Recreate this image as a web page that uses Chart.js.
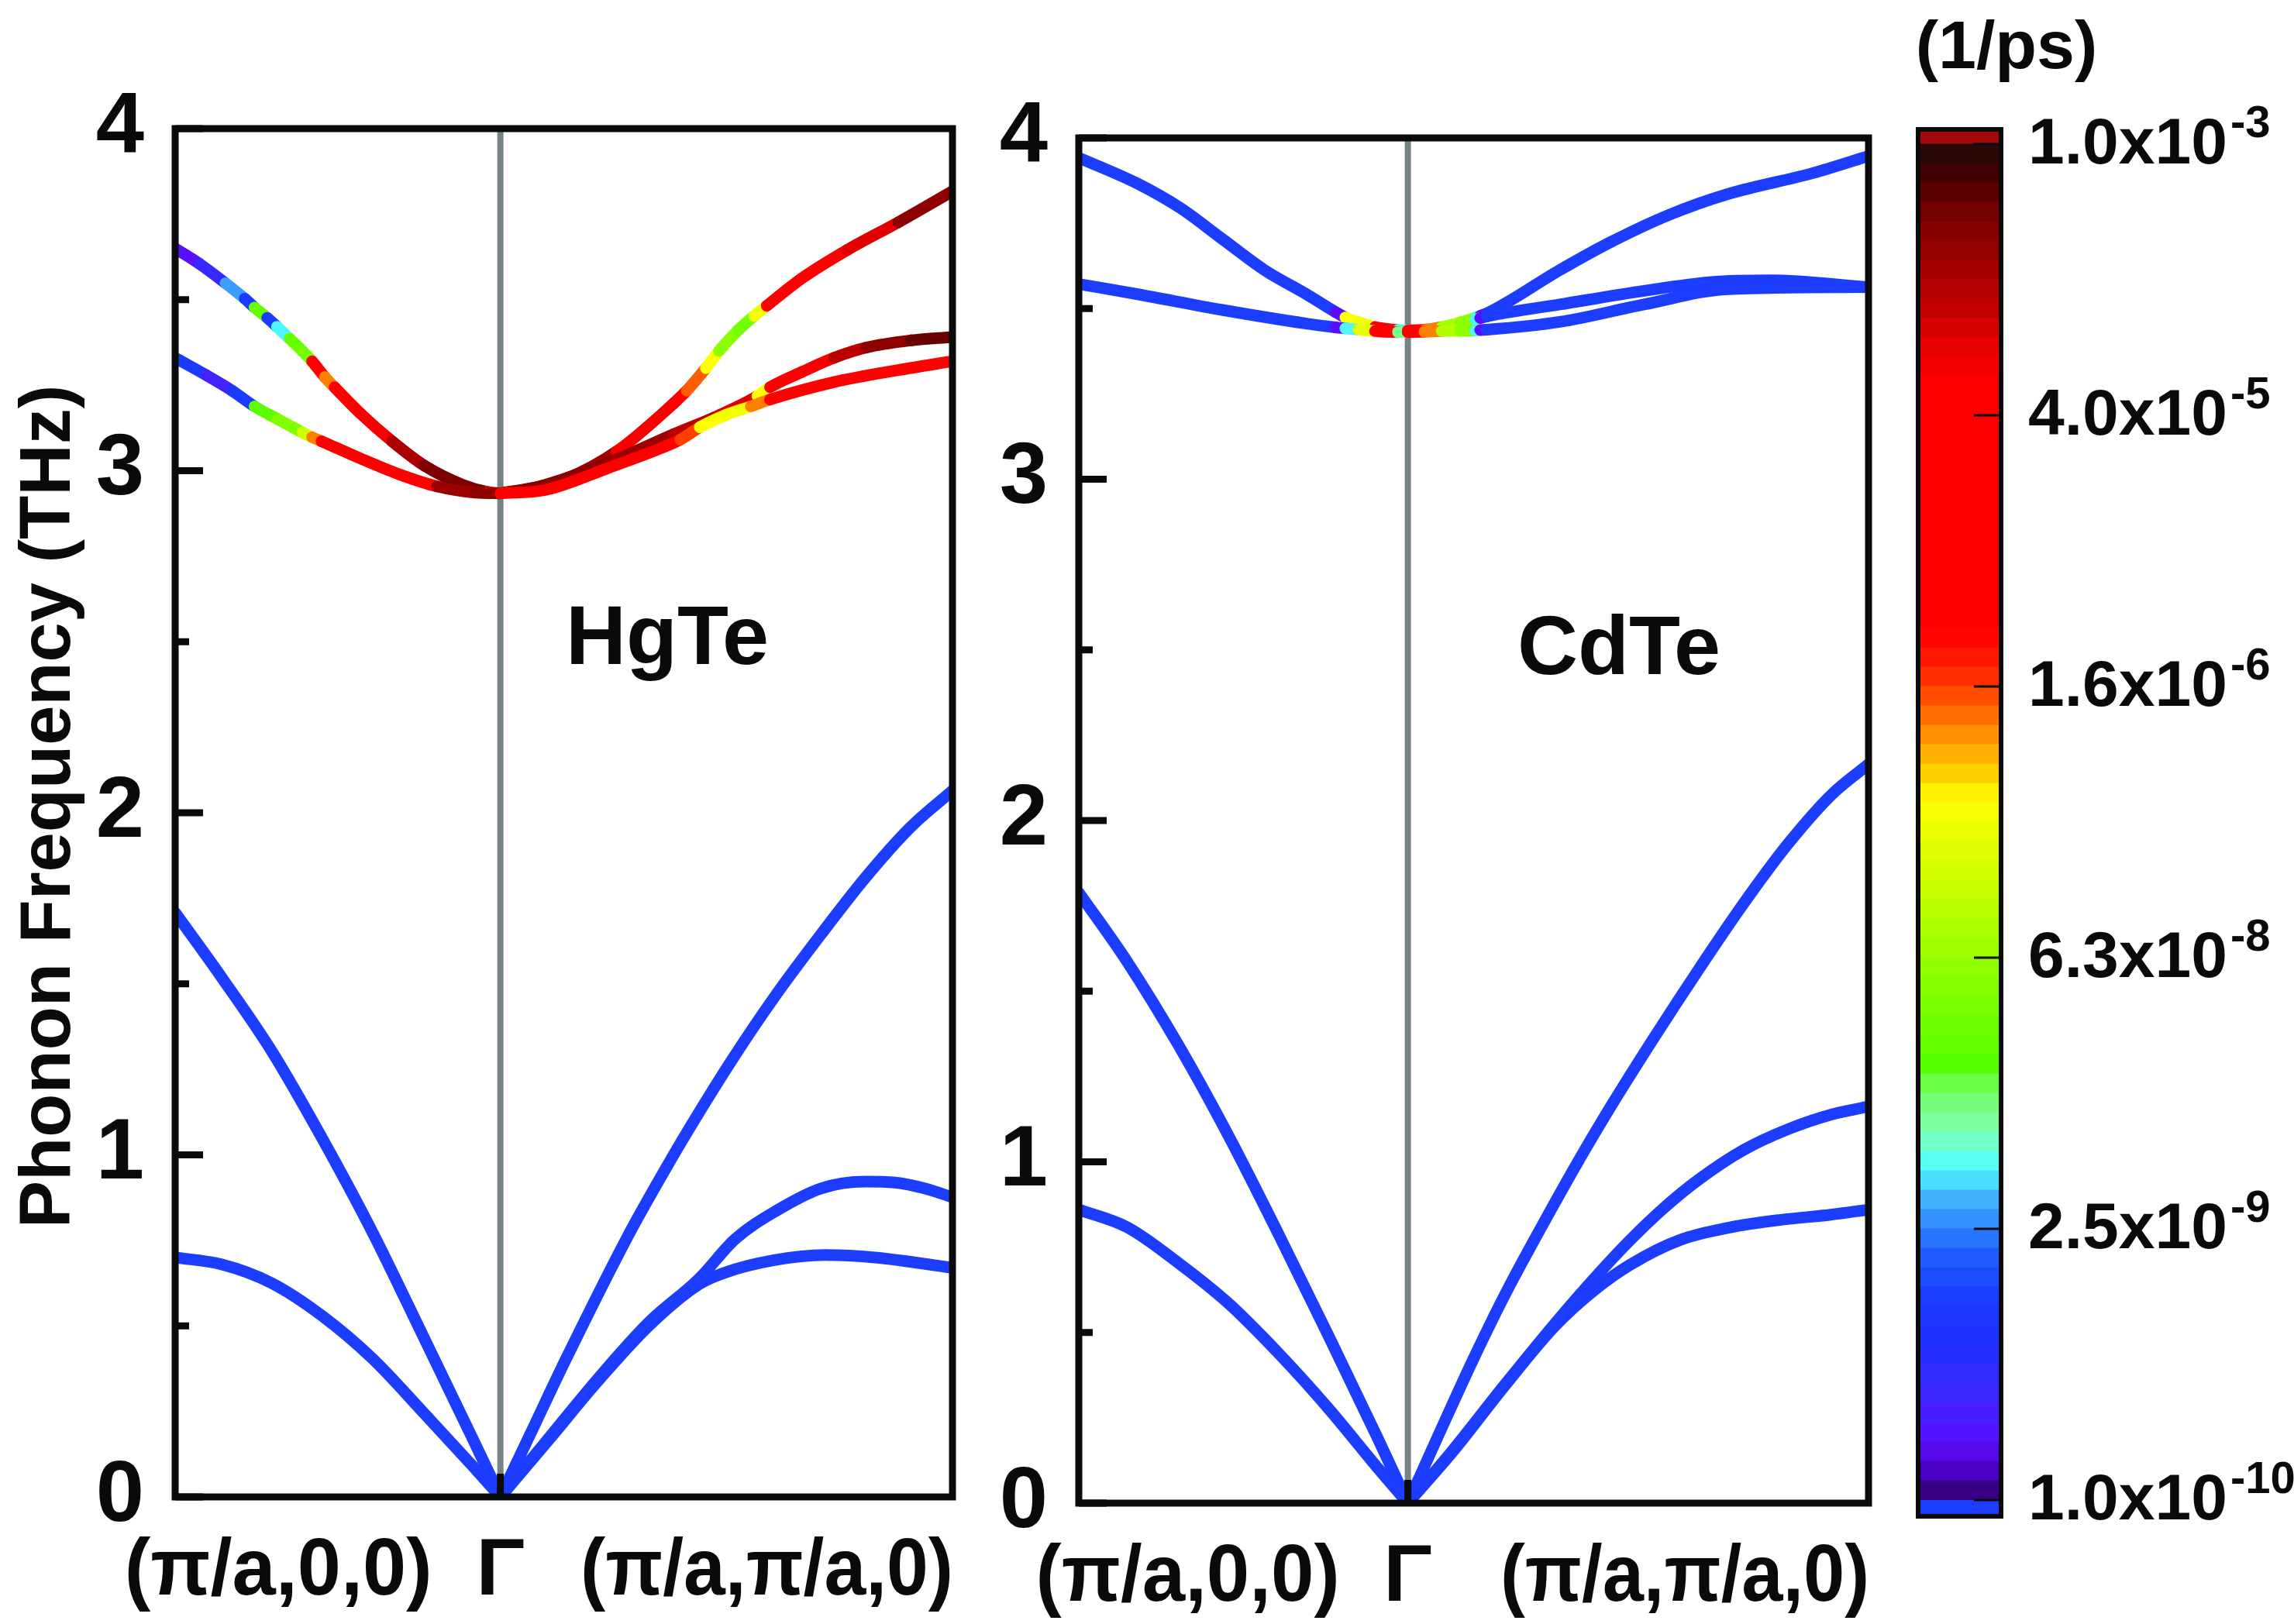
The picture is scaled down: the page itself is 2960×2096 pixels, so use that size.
<!DOCTYPE html>
<html><head><meta charset="utf-8">
<script src="https://cdn.jsdelivr.net/npm/chart.js@4.4.1/dist/chart.umd.min.js"></script>
<style>
html,body{margin:0;padding:0;background:#fff;}
#wrap{position:relative;width:2960px;height:2096px;overflow:hidden;background:#fff;}
canvas{position:absolute;top:0;}
</style></head><body>
<div id="wrap">
<canvas id="c1" width="1240" height="2096" style="left:0px;width:1240px;height:2096px"></canvas>
<canvas id="c2" width="1190" height="2096" style="left:1250px;width:1190px;height:2096px"></canvas>
<canvas id="c3" width="520" height="2096" style="left:2440px;width:520px;height:2096px"></canvas>
</div>
<script>
// ---------------- data ----------------
const freqTicks = [0, 1, 2, 3, 4];
const freqMinor = [0.5, 1.5, 2.5, 3.5];
const pathLabels = ['(\u03c0/a,0,0)', '\u0393', '(\u03c0/a,\u03c0/a,0)'];
const yTitle = 'Phonon Frequency (THz)';
const panelNames = ['HgTe', 'CdTe'];
const hgXmax = 1.39;
const cdXmax = 1.40;

// HgTe acoustic branches (below colour range)
const hg_TA_X_x = [-1, -0.858, -0.703, -0.549, -0.394, -0.240, -0.085, 0];
const hg_TA_X_f = [0.70, 0.68, 0.625, 0.53, 0.405, 0.25, 0.09, 0];
const hg_LA_X_x = [-1, -0.858, -0.703, -0.549, -0.394, -0.240, -0.085, 0];
const hg_LA_X_f = [1.708, 1.52, 1.303, 1.05, 0.775, 0.475, 0.17, 0];
const hg_LA_M_x = [0, 0.1, 0.2, 0.39, 0.486, 0.577, 0.713, 0.849, 0.986, 1.122, 1.258, 1.39];
const hg_LA_M_f = [0, 0.2, 0.4, 0.759, 0.923, 1.071, 1.279, 1.470, 1.645, 1.81, 1.955, 2.065];
const hg_TA2_M_x = [0, 0.147, 0.301, 0.456, 0.611, 0.722, 0.849, 0.986, 1.122, 1.213, 1.304, 1.39];
const hg_TA2_M_f = [0, 0.17, 0.347, 0.51, 0.638, 0.754, 0.837, 0.902, 0.922, 0.919, 0.902, 0.876];
const hg_TA1_M_x = [0, 0.147, 0.301, 0.456, 0.611, 0.688, 0.842, 0.997, 1.151, 1.39];
const hg_TA1_M_f = [0, 0.165, 0.34, 0.5, 0.622, 0.655, 0.692, 0.707, 0.70, 0.670];

// HgTe optical branches: x, frequency (THz), log10 rate (1/ps)
const hg_LO_X_x = [-1, -0.924, -0.845, -0.786, -0.756, -0.717, -0.687, -0.648, -0.609, -0.579, -0.540, -0.510, -0.431, -0.333, -0.234, -0.116, -0.04, 0];
const hg_LO_X_f = [3.650, 3.604, 3.548, 3.503, 3.477, 3.447, 3.421, 3.386, 3.350, 3.320, 3.274, 3.244, 3.168, 3.086, 3.015, 2.959, 2.938, 2.934];
const hg_LO_X_r = [-9.7, -9.4, -8.5, -9.0, -7.6, -9.0, -8.3, -7.6, -7.5, -4.5, -6.0, -4.5, -4.2, -3.7, -3.4, -3.4, -4.3, -4.3];
const hg_TO_X_x = [-1, -0.904, -0.825, -0.756, -0.687, -0.609, -0.579, -0.550, -0.431, -0.313, -0.195, -0.077, 0];
const hg_TO_X_f = [3.330, 3.279, 3.234, 3.188, 3.152, 3.112, 3.098, 3.086, 3.036, 2.990, 2.954, 2.936, 2.934];
const hg_TO_X_r = [-9.0, -9.5, -9.0, -7.7, -7.4, -6.8, -6.0, -4.5, -4.4, -4.3, -3.6, -3.5, -4.3];
const hg_LO_M_x = [0, 0.1, 0.199, 0.357, 0.534, 0.573, 0.632, 0.672, 0.731, 0.78, 0.819, 0.928, 1.066, 1.223, 1.39];
const hg_LO_M_f = [2.934, 2.949, 2.975, 3.056, 3.198, 3.234, 3.30, 3.35, 3.411, 3.452, 3.482, 3.563, 3.645, 3.726, 3.817];
const hg_LO_M_r = [-3.6, -3.5, -3.6, -4.2, -4.4, -5.9, -6.4, -7.3, -7.5, -6.5, -4.4, -4.3, -4.0, -3.5, -3.4];
const hg_TO2_M_x = [0, 0.12, 0.238, 0.337, 0.534, 0.672, 0.79, 0.829, 0.928, 1.026, 1.125, 1.263, 1.39];
const hg_TO2_M_f = [2.934, 2.954, 2.99, 3.025, 3.107, 3.162, 3.218, 3.244, 3.289, 3.33, 3.36, 3.381, 3.391];
const hg_TO2_M_r = [-3.5, -3.5, -3.5, -3.6, -3.8, -4.0, -6.4, -4.3, -4.2, -3.8, -3.5, -3.3, -3.4];
const hg_TO1_M_x = [0, 0.14, 0.337, 0.494, 0.553, 0.613, 0.691, 0.77, 0.829, 1.026, 1.223, 1.39];
const hg_TO1_M_f = [2.934, 2.944, 3.01, 3.066, 3.091, 3.127, 3.162, 3.188, 3.208, 3.259, 3.294, 3.32];
const hg_TO1_M_r = [-4.3, -4.3, -4.4, -4.5, -5.8, -6.4, -6.5, -6.0, -4.5, -4.4, -4.4, -4.5];

// CdTe acoustic branches (below colour range)
const cd_TA_X_x = [-1, -0.852, -0.699, -0.547, -0.394, -0.241, -0.089, 0];
const cd_TA_X_f = [0.86, 0.808, 0.705, 0.587, 0.44, 0.277, 0.10, 0];
const cd_LA_X_x = [-1, -0.852, -0.699, -0.547, -0.394, -0.241, -0.089, 0];
const cd_LA_X_f = [1.789, 1.585, 1.345, 1.08, 0.79, 0.49, 0.185, 0];
const cd_LA_M_x = [0, 0.1, 0.2, 0.3, 0.438, 0.524, 0.614, 0.749, 0.884, 1.019, 1.154, 1.289, 1.40];
const cd_LA_M_f = [0, 0.214, 0.424, 0.62, 0.865, 1.012, 1.158, 1.365, 1.564, 1.755, 1.93, 2.077, 2.165];
const cd_TA2_M_x = [0, 0.14, 0.293, 0.446, 0.568, 0.675, 0.776, 0.884, 1.019, 1.154, 1.289, 1.40];
const cd_TA2_M_f = [0, 0.159, 0.345, 0.525, 0.66, 0.77, 0.863, 0.948, 1.034, 1.095, 1.139, 1.162];
const cd_TA1_M_x = [0, 0.14, 0.293, 0.446, 0.568, 0.675, 0.827, 0.98, 1.133, 1.285, 1.40];
const cd_TA1_M_f = [0, 0.155, 0.342, 0.518, 0.625, 0.698, 0.771, 0.808, 0.83, 0.845, 0.86];

// CdTe optical branches
const U = -10.5; // below colour range
const cd_LO_X_x = [-1, -0.821, -0.692, -0.564, -0.436, -0.308, -0.22, -0.19, -0.15, -0.1, -0.07, -0.03, 0];
const cd_LO_X_f = [3.942, 3.866, 3.795, 3.704, 3.613, 3.542, 3.49, 3.474, 3.46, 3.446, 3.441, 3.437, 3.436];
const cd_LO_X_r = [U, U, U, U, U, U, -9.7, -6.4, -6.5, -4.5, -4.3, -8.3, -4.3];
const cd_TO_X_x = [-1, -0.821, -0.564, -0.308, -0.22, -0.19, -0.15, -0.1, -0.07, -0.03, 0];
const cd_TO_X_f = [3.572, 3.542, 3.496, 3.456, 3.445, 3.442, 3.438, 3.434, 3.432, 3.431, 3.431];
const cd_TO_X_r = [U, U, U, U, -9.7, -8.3, -6.6, -4.5, -4.4, -8.0, -4.3];
const cd_LO_M_x = [0, 0.05, 0.103, 0.16, 0.205, 0.22, 0.24, 0.462, 0.615, 0.795, 0.974, 1.231, 1.40];
const cd_LO_M_f = [3.436, 3.438, 3.446, 3.46, 3.474, 3.479, 3.486, 3.613, 3.694, 3.775, 3.836, 3.897, 3.947];
const cd_LO_M_r = [-4.3, -5.9, -7.0, -7.2, -8.3, -9.7, U, U, U, U, U, U, U];
const cd_TOa_M_x = [0, 0.05, 0.103, 0.16, 0.205, 0.22, 0.24, 0.462, 0.718, 0.923, 1.103, 1.40];
const cd_TOa_M_f = [3.431, 3.436, 3.445, 3.457, 3.468, 3.472, 3.477, 3.512, 3.552, 3.578, 3.583, 3.563];
const cd_TOa_M_r = [-4.3, -6.0, -7.1, -7.3, -8.3, -9.7, U, U, U, U, U, U];
const cd_TOb_M_x = [0, 0.05, 0.103, 0.16, 0.205, 0.22, 0.24, 0.462, 0.718, 0.974, 1.40];
const cd_TOb_M_f = [3.431, 3.432, 3.434, 3.435, 3.436, 3.437, 3.438, 3.461, 3.512, 3.557, 3.563];
const cd_TOb_M_r = [-4.3, -6.0, -7.0, -7.3, -8.3, -9.7, U, U, U, U, U];

// colour scale (log10 of 1/ps)
const cbMin = -10, cbMax = -3;
const cbTickVals = [-3, -4.4, -5.8, -7.2, -8.6, -10];
const cbTickMant = ['1.0x10', '4.0x10', '1.6x10', '6.3x10', '2.5x10', '1.0x10'];
const cbTickExp = ['-3', '-5', '-6', '-8', '-9', '-10'];
const cbTitle = '(1/ps)';
const cmapLevels = [-10, -9.93, -9.83, -9.69, -9.44, -9.2, -8.96, -8.72, -8.47, -8.28, -8.09, -7.89, -7.75, -7.26, -6.78, -6.39, -6.25, -6.05, -5.86, -5.7, -5.52, -4.26, -4.0, -3.84, -3.72, -3.59, -3.46, -3.32, -3.19, -3.05, -3.0];
const cmapColors = ['#36006e', '#3a0090', '#5000d0', '#5a10ff', '#3a28ff', '#2030ff', '#1a3cff', '#2060ff', '#40a8ff', '#50ffff', '#80ffb0', '#70ff60', '#55ff00', '#90ff00', '#d0ff00', '#ffff00', '#ffd000', '#ff9000', '#ff5000', '#ff2000', '#ff0000', '#ff0000', '#e00000', '#c00000', '#b00000', '#9a0000', '#880000', '#700000', '#4a0000', '#2a0808', '#2a0808'];
const UNDER_COLOR = '#1c3cff';
const OVER_COLOR = '#a00a0a';

// ---------------- helpers ----------------
const FONT = '"Liberation Sans", Arial, Helvetica, sans-serif';
const GAMMA_COLOR = '#778487';
const INK = '#0a0a0a';
const LINE_W = 15;

function hex2rgb(h) { return [parseInt(h.substr(1, 2), 16), parseInt(h.substr(3, 2), 16), parseInt(h.substr(5, 2), 16)]; }
function colorOf(r) {
  if (r === undefined || r === null || r < cbMin) return UNDER_COLOR;
  if (r > cbMax) return OVER_COLOR;
  for (let i = 0; i < cmapLevels.length - 1; i++) {
    if (r <= cmapLevels[i + 1]) {
      const t = (r - cmapLevels[i]) / (cmapLevels[i + 1] - cmapLevels[i]);
      const a = hex2rgb(cmapColors[i]), b = hex2rgb(cmapColors[i + 1]);
      return 'rgb(' + a.map((v, k) => Math.round(v + (b[k] - v) * t)).join(',') + ')';
    }
  }
  return cmapColors[cmapColors.length - 1];
}
function branch(xs, fs, rs) {
  const ds = {
    data: xs.map((x, i) => ({ x: x, y: fs[i] })),
    showLine: true, pointRadius: 0, pointHoverRadius: 0, borderWidth: LINE_W,
    borderCapStyle: 'round', borderJoinStyle: 'round',
    cubicInterpolationMode: 'monotone', clip: 0, fill: false,
    borderColor: rs ? colorOf(rs[0]) : UNDER_COLOR
  };
  if (rs) ds.segment = { borderColor: c => colorOf(rs[c.p0DataIndex]) };
  return ds;
}
// draw text so that it occupies the given width, right-aligned at xr
function fitText(ctx, text, xr, base, w) {
  const m = ctx.measureText(text).width;
  const s = w / m;
  ctx.save();
  ctx.translate(xr, base);
  ctx.scale(s, 1);
  ctx.textAlign = 'right';
  ctx.fillText(text, 0, 0);
  ctx.restore();
}

function panelPlugin(p) {
  return {
    id: 'panel' + p.name,
    beforeDatasetsDraw(chart) {
      const { ctx, chartArea: a, scales: { x } } = chart;
      const gx = x.getPixelForValue(0);
      ctx.save();
      ctx.strokeStyle = GAMMA_COLOR; ctx.lineWidth = 8;
      ctx.beginPath(); ctx.moveTo(gx, a.top); ctx.lineTo(gx, a.bottom); ctx.stroke();
      ctx.restore();
    },
    afterDatasetsDraw(chart) {
      const { ctx, chartArea: a, scales: { x, y } } = chart;
      const gx = x.getPixelForValue(0);
      ctx.save();
      ctx.strokeStyle = INK; ctx.fillStyle = INK;
      // inward ticks
      ctx.lineWidth = 9; ctx.lineCap = 'butt';
      freqTicks.forEach(v => { const py = y.getPixelForValue(v); ctx.beginPath(); ctx.moveTo(a.left, py); ctx.lineTo(a.left + 36, py); ctx.stroke(); });
      freqMinor.forEach(v => { const py = y.getPixelForValue(v); ctx.beginPath(); ctx.moveTo(a.left, py); ctx.lineTo(a.left + 18, py); ctx.stroke(); });
      // Gamma tick at bottom
      ctx.beginPath(); ctx.moveTo(gx, a.bottom); ctx.lineTo(gx, a.bottom - 30); ctx.stroke();
      // frame
      ctx.lineWidth = 9;
      ctx.strokeRect(a.left, a.top, a.right - a.left, a.bottom - a.top);
      // path labels
      ctx.font = 'bold 104px ' + FONT;
      ctx.textBaseline = 'alphabetic';
      fitText(ctx, pathLabels[0], gx - 88, p.labelBase, p.w0);
      ctx.textAlign = 'center'; ctx.fillText(pathLabels[1], gx, p.labelBase);
      fitText(ctx, pathLabels[2], a.right + 1, p.labelBase, p.w2);
      // material name
      ctx.font = 'bold 108px ' + FONT;
      ctx.textAlign = 'left';
      ctx.fillText(p.name, p.nameX, p.nameBase);
      // y title
      if (p.title) {
        ctx.font = 'bold 92px ' + FONT;
        ctx.translate(90, (a.top + a.bottom) / 2 - 8);
        ctx.rotate(-Math.PI / 2);
        ctx.textAlign = 'center';
        ctx.fillText(yTitle, 0, 0);
      }
      ctx.restore();
    }
  };
}

function panelConfig(datasets, xmax, pad, axisW, plugin) {
  return {
    type: 'scatter',
    data: { datasets: datasets },
    options: {
      responsive: false, animation: false, maintainAspectRatio: false,
      layout: { padding: pad },
      plugins: { legend: { display: false }, tooltip: { enabled: false } },
      events: [],
      scales: {
        x: { type: 'linear', min: -1, max: xmax, display: false },
        y: {
          type: 'linear', min: 0, max: 4, position: 'left',
          afterBuildTicks: s => { s.ticks = freqTicks.map(v => ({ value: v })); },
          afterFit: s => { s.width = axisW; },
          grid: { display: false, drawTicks: false },
          border: { display: false },
          ticks: { color: INK, padding: 40, font: { family: FONT, size: 112, weight: 'bold' }, callback: v => String(v) }
        }
      }
    },
    plugins: [plugin]
  };
}

// ---------------- HgTe ----------------
const hgSets = [
  branch(hg_TO1_M_x, hg_TO1_M_f, hg_TO1_M_r),
  branch(hg_TO2_M_x, hg_TO2_M_f, hg_TO2_M_r),
  branch(hg_LO_M_x, hg_LO_M_f, hg_LO_M_r),
  branch(hg_TO_X_x, hg_TO_X_f, hg_TO_X_r),
  branch(hg_LO_X_x, hg_LO_X_f, hg_LO_X_r),
  branch(hg_TA_X_x, hg_TA_X_f),
  branch(hg_LA_X_x, hg_LA_X_f),
  branch(hg_LA_M_x, hg_LA_M_f),
  branch(hg_TA2_M_x, hg_TA2_M_f),
  branch(hg_TA1_M_x, hg_TA1_M_f)
];
new Chart(document.getElementById('c1'), panelConfig(hgSets, hgXmax,
  { left: 0, top: 166, right: 11, bottom: 164 }, 226,
  panelPlugin({ name: panelNames[0], nameX: 730, nameBase: 857, labelBase: 2058, title: true, w0: 397, w2: 481 })));

// ---------------- CdTe ----------------
const cdSets = [
  branch(cd_TOb_M_x, cd_TOb_M_f, cd_TOb_M_r),
  branch(cd_TOa_M_x, cd_TOa_M_f, cd_TOa_M_r),
  branch(cd_LO_M_x, cd_LO_M_f, cd_LO_M_r),
  branch(cd_TO_X_x, cd_TO_X_f, cd_TO_X_r),
  branch(cd_LO_X_x, cd_LO_X_f, cd_LO_X_r),
  branch(cd_TA_X_x, cd_TA_X_f),
  branch(cd_LA_X_x, cd_LA_X_f),
  branch(cd_LA_M_x, cd_LA_M_f),
  branch(cd_TA2_M_x, cd_TA2_M_f),
  branch(cd_TA1_M_x, cd_TA1_M_f)
];
new Chart(document.getElementById('c2'), panelConfig(cdSets, cdXmax,
  { left: 0, top: 178, right: 29, bottom: 156 }, 142,
  panelPlugin({ name: panelNames[1], nameX: 1958 - 1250, nameBase: 870, labelBase: 2066, title: false, w0: 392, w2: 476 })));

// ---------------- colour bar ----------------
const cbStep = 0.1;
const cbLo = -10.076, cbHi = -2.932;
const cbBands = [];
cbBands.push({ lo: cbLo, hi: cbMin, c: UNDER_COLOR });
for (let v = cbMin; v < cbMax - 1e-9; v += cbStep) {
  cbBands.push({ lo: v, hi: Math.min(v + cbStep, cbMax) + 0.002, c: colorOf(v + cbStep / 2) });
}
cbBands.push({ lo: cbMax, hi: cbHi, c: OVER_COLOR });

const cbPlugin = {
  id: 'cbDecor',
  afterDatasetsDraw(chart) {
    const { ctx, chartArea: a, scales: { y } } = chart;
    ctx.save();
    ctx.strokeStyle = INK; ctx.fillStyle = INK;
    ctx.lineWidth = 3;
    cbTickVals.forEach(v => { const py = y.getPixelForValue(v); ctx.beginPath(); ctx.moveTo(a.right, py); ctx.lineTo(a.right - 32, py); ctx.stroke(); });
    ctx.lineWidth = 6;
    ctx.strokeRect(a.left - 3, a.top - 2, a.right - a.left + 6, a.bottom - a.top + 4);
    const lx = a.right + 38;
    cbTickVals.forEach((v, i) => {
      const py = y.getPixelForValue(v);
      ctx.font = 'bold 84px ' + FONT; ctx.textAlign = 'left'; ctx.textBaseline = 'alphabetic';
      ctx.fillText(cbTickMant[i], lx, py + 25);
      const w = ctx.measureText(cbTickMant[i]).width;
      ctx.font = 'bold 58px ' + FONT;
      ctx.fillText(cbTickExp[i], lx + w + 4, py - 9);
    });
    ctx.font = 'bold 88px ' + FONT; ctx.textAlign = 'center'; ctx.textBaseline = 'alphabetic';
    ctx.fillText(cbTitle, 2589 - 2440, 88);
    ctx.restore();
  }
};
new Chart(document.getElementById('c3'), {
  type: 'bar',
  data: {
    labels: ['rate'],
    datasets: cbBands.map(b => ({ data: [[b.lo, b.hi]], backgroundColor: b.c, borderWidth: 0, grouped: false, barPercentage: 1, categoryPercentage: 1, inflateAmount: 0 }))
  },
  options: {
    responsive: false, animation: false, maintainAspectRatio: false, events: [],
    layout: { padding: { left: 38, top: 169, right: 0, bottom: 141 } },
    plugins: { legend: { display: false }, tooltip: { enabled: false } },
    scales: {
      x: { display: false },
      y: {
        type: 'linear', min: cbLo, max: cbHi, position: 'right',
        afterFit: s => { s.width = 381; },
        grid: { display: false, drawTicks: false }, border: { display: false },
        ticks: { display: false }
      }
    }
  },
  plugins: [cbPlugin]
});
</script>
</body></html>
